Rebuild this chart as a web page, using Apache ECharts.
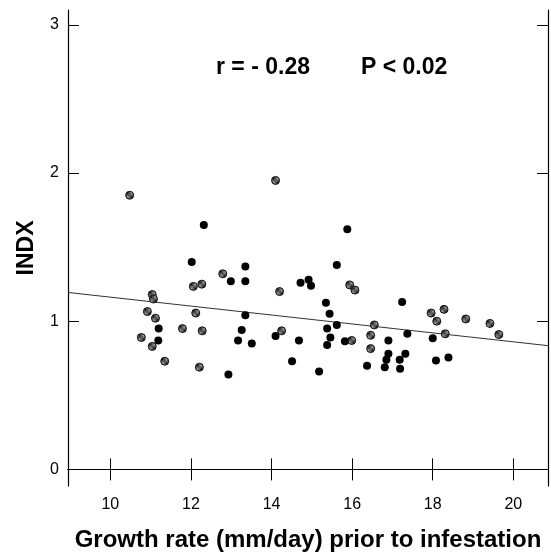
<!DOCTYPE html>
<html><head><meta charset="utf-8">
<script src="https://cdn.jsdelivr.net/npm/echarts@6/dist/echarts.min.js"></script>
<style>html,body{margin:0;padding:0;background:#fff}#c{width:551px;height:557px}</style>
</head><body><div id="c"></div>
<script>
const xTicks = [10, 12, 14, 16, 18, 20];
const yTicks = [0, 1, 2, 3];
const xRange = [8.95, 20.86];
const yRange = [-0.112, 3.1];

const solidX = [12.32, 12.02, 13.35, 12.99, 13.35, 13.35, 11.20, 13.26, 11.19, 13.17, 12.93,
  15.88, 15.62, 14.72, 14.92, 14.98, 15.35, 17.24, 15.44, 15.62, 14.10, 15.38, 15.46, 15.38,
  14.68, 15.82, 16.90, 17.37, 13.51, 16.90, 17.32, 14.51, 15.18, 16.37, 16.85, 16.81, 17.18,
  17.19, 18.00, 18.08, 18.39];
const solidY = [1.65, 1.40, 1.37, 1.27, 1.27, 1.04, 0.95, 0.94, 0.87, 0.87, 0.64,
  1.62, 1.38, 1.26, 1.28, 1.24, 1.125, 1.13, 1.05, 0.975, 0.90, 0.95, 0.89, 0.84,
  0.87, 0.865, 0.87, 0.915, 0.85, 0.78, 0.78, 0.73, 0.66, 0.70, 0.74, 0.69, 0.74,
  0.68, 0.885, 0.735, 0.755];

const hatchX = [10.48, 12.79, 12.06, 12.27, 11.04, 11.07, 10.92, 11.12, 12.12, 11.79, 12.28,
  10.77, 11.04, 11.35, 12.21, 14.10, 14.20, 15.94, 16.07, 16.55, 14.25, 15.99, 16.46, 16.46,
  17.96, 18.28, 18.10, 18.82, 19.42, 19.64, 18.31];
const hatchY = [1.85, 1.32, 1.235, 1.25, 1.18, 1.15, 1.065, 1.02, 1.055, 0.95, 0.935,
  0.89, 0.83, 0.73, 0.69, 1.95, 1.20, 1.245, 1.21, 0.975, 0.935, 0.87, 0.905, 0.815,
  1.055, 1.08, 1.00, 1.015, 0.985, 0.91, 0.915];

const fitX = [8.95, 20.86];
const fitY = [1.194, 0.835];

const statR = 'r = - 0.28';
const statP = 'P < 0.02';
const xTitle = 'Growth rate (mm/day) prior to infestation';
const yTitle = 'INDX';

const FONT = '"Liberation Sans", Arial, Helvetica, sans-serif';

function zip(a, b) { return a.map((v, i) => [v, b[i]]); }

// hatched fill pattern
const pat = document.createElement('canvas');
pat.width = 2; pat.height = 2;
const pc = pat.getContext('2d');
pc.fillStyle = '#111'; pc.fillRect(0, 0, 2, 2);
pc.fillStyle = '#a8a8a8'; pc.fillRect(0, 1, 1, 1); pc.fillRect(1, 0, 1, 1);

const lineBlack = { show: true, lineStyle: { color: '#000', width: 1.2 } };
const tickIn = (vals) => ({ show: true, inside: true, length: 11, customValues: vals, lineStyle: { color: '#000', width: 1 } });

const chart = echarts.init(document.getElementById('c'), null, { renderer: 'canvas' });
chart.setOption({
  animation: false,
  backgroundColor: '#fff',
  grid: { left: 68, right: 3, top: 10, bottom: 67, containLabel: false },
  xAxis: [
    {
      type: 'value', min: xRange[0], max: xRange[1], position: 'bottom',
      axisLine: lineBlack, splitLine: { show: false },
      axisTick: tickIn(xTicks),
      axisLabel: { customValues: xTicks, margin: 11, color: '#000', fontSize: 16, fontFamily: FONT },
      name: xTitle, nameLocation: 'middle', nameGap: 42,
      nameTextStyle: { color: '#000', fontSize: 24, fontWeight: 'bold', fontFamily: FONT }
    },
    {
      type: 'value', min: xRange[0], max: xRange[1], position: 'top',
      axisLine: lineBlack, splitLine: { show: false },
      axisTick: tickIn(xTicks), axisLabel: { show: false }
    }
  ],
  yAxis: [
    {
      type: 'value', min: yRange[0], max: yRange[1], position: 'left',
      axisLine: lineBlack, splitLine: { show: false },
      axisTick: tickIn(yTicks),
      axisLabel: { customValues: yTicks, margin: 9, color: '#000', fontSize: 16, fontFamily: FONT },
      name: yTitle, nameLocation: 'middle', nameGap: 30, nameRotate: 90,
      nameTextStyle: { color: '#000', fontSize: 23, fontWeight: 'bold', fontFamily: FONT }
    },
    {
      type: 'value', min: yRange[0], max: yRange[1], position: 'right',
      axisLine: lineBlack, splitLine: { show: false },
      axisTick: tickIn(yTicks), axisLabel: { show: false }
    }
  ],
  series: [
    {
      type: 'line', data: zip(fitX, fitY), symbol: 'none', silent: true, z: 1,
      lineStyle: { color: '#333', width: 1 }
    },
    {
      type: 'scatter', data: zip(hatchX, hatchY), symbol: 'circle', symbolSize: 8, z: 3,
      itemStyle: { color: { image: pat, repeat: 'repeat' }, borderColor: '#111', borderWidth: 1, opacity: 1 }
    },
    {
      type: 'scatter', data: zip(solidX, solidY), symbol: 'circle', symbolSize: 8, z: 4,
      itemStyle: { color: '#000', opacity: 1 }
    }
  ],
  graphic: [
    { type: 'text', left: 216, top: 56, style: { text: statR, fill: '#000', font: 'bold 23px ' + FONT } },
    { type: 'text', left: 361, top: 56, style: { text: statP, fill: '#000', font: 'bold 23px ' + FONT } }
  ]
});
</script>
</body></html>
